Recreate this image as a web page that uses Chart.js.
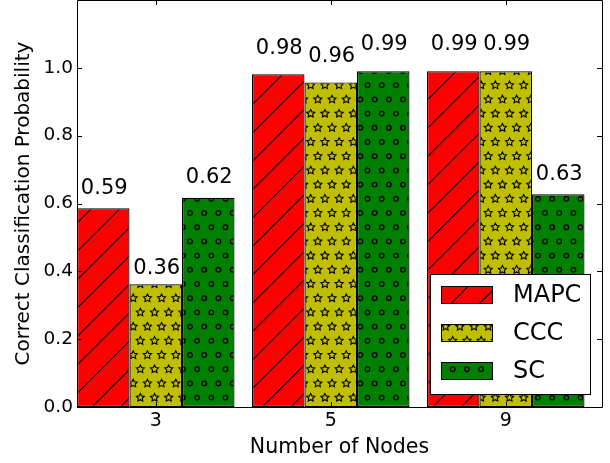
<!DOCTYPE html>
<html>
<head>
<meta charset="utf-8">
<script src="https://cdn.jsdelivr.net/npm/chart.js@4/dist/chart.umd.min.js"></script>
<style>
  html, body { margin: 0; padding: 0; background: #fff; }
  canvas { display: block; }
</style>
</head>
<body>
<canvas id="chart" width="610" height="463"></canvas>
<script>
// -----------------------------
// DATA
// -----------------------------
const nodeCounts = ['3', '5', '9'];
const seriesNames = ['MAPC', 'CCC', 'SC'];
const mapcValues = [0.586, 0.981, 0.990];
const cccValues = [0.362, 0.957, 0.990];
const scValues = [0.617, 0.990, 0.627];
const yTicks = [0.0, 0.2, 0.4, 0.6, 0.8, 1.0];

const groupPos = nodeCounts.map((_, i) => i);
const FONT = "'DejaVu Sans', 'Liberation Sans', sans-serif";

// -----------------------------
// HATCH PATTERNS
// -----------------------------
const CELL = 14.2;
const TILE = 142;

function makeTile(base, drawHatch) {
    const c = document.createElement('canvas');
    c.width = TILE;
    c.height = TILE;
    const g = c.getContext('2d');
    g.fillStyle = base;
    g.fillRect(0, 0, TILE, TILE);
    g.strokeStyle = '#000';
    g.lineWidth = 1.1;
    drawHatch(g);
    const p = g.createPattern(c, 'repeat');
    p.setTransform(new DOMMatrix().translate(190, 213));
    return p;
}

function eachLattice(fn) {
    for (let j = -1; j <= 10; j++) {
        for (let i = -1; i <= 10; i++) {
            fn(i * CELL + (Math.abs(j) % 2 ? CELL / 2 : 0), j * CELL);
        }
    }
}

const redHatch = makeTile('#ff0000', g => {
    for (let k = -TILE; k <= 2 * TILE; k += CELL * 2) {
        const c = k + 10.7;
        g.beginPath();
        g.moveTo(c - 200, 200);
        g.lineTo(c + 200, -200);
        g.stroke();
    }
});

const starHatch = makeTile('#bfbf00', g => {
    const R = 4.2, r = 2.1;
    eachLattice((x, y) => {
        g.beginPath();
        for (let n = 0; n < 10; n++) {
            const a = -Math.PI / 2 + n * Math.PI / 5;
            const rr = n % 2 ? r : R;
            const px = x + rr * Math.cos(a), py = y + rr * Math.sin(a);
            if (n === 0) g.moveTo(px, py); else g.lineTo(px, py);
        }
        g.closePath();
        g.stroke();
    });
});

const circleHatch = makeTile('#008000', g => {
    g.lineWidth = 1.3;
    eachLattice((x, y) => {
        g.beginPath();
        g.arc(x, y, 2.3, 0, Math.PI * 2);
        g.stroke();
    });
});

const fills = [redHatch, starHatch, circleHatch];
const seriesValues = [mapcValues, cccValues, scValues];

// -----------------------------
// PLUGINS
// -----------------------------
const whiteBg = {
    id: 'whiteBg',
    beforeDraw(chart) {
        const ctx = chart.ctx;
        ctx.save();
        ctx.fillStyle = '#fff';
        ctx.fillRect(0, 0, chart.width, chart.height);
        ctx.restore();
    }
};

const frameAndLabels = {
    id: 'frameAndLabels',
    afterDatasetsDraw(chart) {
        const ctx = chart.ctx;
        const { left, right, top, bottom } = chart.chartArea;
        const xs = chart.scales.x, ys = chart.scales.y;
        ctx.save();

        // inward ticks on all four sides
        ctx.strokeStyle = '#000';
        ctx.lineWidth = 1;
        ctx.beginPath();
        yTicks.forEach(v => {
            const y = Math.round(ys.getPixelForValue(v)) + 0.5;
            ctx.moveTo(left, y); ctx.lineTo(left + 5, y);
            ctx.moveTo(right, y); ctx.lineTo(right - 5, y);
        });
        groupPos.forEach(v => {
            const x = Math.round(xs.getPixelForValue(v)) + 0.5;
            ctx.moveTo(x, bottom); ctx.lineTo(x, bottom - 5);
            ctx.moveTo(x, top); ctx.lineTo(x, top + 5);
        });
        ctx.stroke();

        // frame
        ctx.beginPath();
        ctx.rect(left + 0.5, top + 0.5, right - left, bottom - top);
        ctx.stroke();

        // value labels
        ctx.fillStyle = '#000';
        ctx.font = '21px ' + FONT;
        ctx.textAlign = 'center';
        ctx.textBaseline = 'alphabetic';
        chart.data.datasets.forEach((ds, di) => {
            const meta = chart.getDatasetMeta(di);
            meta.data.forEach((bar, i) => {
                const v = seriesValues[di][i];
                const y = ys.getPixelForValue(v * 1.05) - 4;
                ctx.fillText(v.toFixed(2), bar.x + 1, y);
            });
        });

        // legend
        const lx = 430.5, ly = 274.5, lw = 160, lh = 120;
        ctx.fillStyle = '#fff';
        ctx.fillRect(lx, ly, lw, lh);
        ctx.strokeRect(lx, ly, lw, lh);
        ctx.font = '24px ' + FONT;
        ctx.textAlign = 'left';
        ctx.textBaseline = 'middle';
        seriesNames.forEach((name, i) => {
            const cy = 295 + i * 38;
            ctx.fillStyle = fills[i];
            ctx.fillRect(441, cy - 9, 52, 18);
            ctx.strokeRect(441.5, cy - 8.5, 51, 17);
            ctx.fillStyle = '#000';
            ctx.fillText(name, 513, cy + 1);
        });

        ctx.restore();
    }
};

// -----------------------------
// CHART
// -----------------------------
Chart.defaults.font.family = FONT;
Chart.defaults.color = '#000';

new Chart(document.getElementById('chart'), {
    type: 'bar',
    data: {
        datasets: seriesNames.map((name, di) => ({
            label: name,
            data: groupPos.map((x, i) => ({ x, y: seriesValues[di][i] })),
            backgroundColor: fills[di],
            borderColor: '#000',
            borderWidth: 1.2,
            borderSkipped: false,
            categoryPercentage: 0.9,
            barPercentage: 1.0
        }))
    },
    options: {
        responsive: false,
        animation: false,
        devicePixelRatio: 1,
        layout: { padding: { left: 0, right: 8, top: 0, bottom: 0 } },
        plugins: {
            legend: { display: false },
            tooltip: { enabled: false }
        },
        scales: {
            x: {
                type: 'linear',
                offset: false,
                min: -0.45,
                max: 2.55,
                grid: { display: false, drawTicks: false },
                border: { display: false },
                afterBuildTicks: s => { s.ticks = groupPos.map(v => ({ value: v })); },
                afterFit: s => {
                    s.height = 56;
                    s.paddingLeft = 0;
                    s.paddingRight = 0;
                },
                ticks: {
                    padding: 3,
                    font: { size: 19 },
                    callback: (v, i) => nodeCounts[i]
                },
                title: {
                    display: true,
                    text: 'Number of Nodes',
                    font: { size: 20.5 },
                    padding: { top: 0, bottom: 3 }
                }
            },
            y: {
                min: 0,
                max: 1.2,
                grid: { display: false, drawTicks: false },
                border: { display: false },
                afterBuildTicks: s => { s.ticks = yTicks.map(v => ({ value: v })); },
                afterFit: s => {
                    s.width = 77;
                    s.paddingTop = 0;
                    s.paddingBottom = 0;
                },
                ticks: {
                    padding: 4,
                    font: { size: 18.5 },
                    callback: v => v.toFixed(1)
                },
                title: {
                    display: true,
                    text: 'Correct Classification Probability',
                    font: { size: 20 },
                    padding: { top: 12, bottom: 0 }
                }
            }
        }
    },
    plugins: [whiteBg, frameAndLabels]
});
</script>
</body>
</html>
